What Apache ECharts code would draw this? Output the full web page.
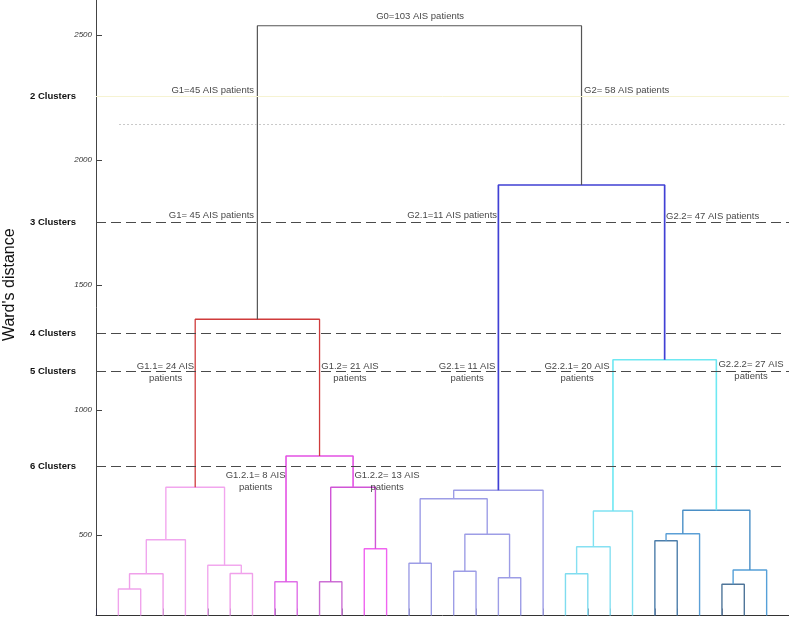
<!DOCTYPE html>
<html><head><meta charset="utf-8">
<script src="https://cdn.jsdelivr.net/npm/echarts@6/dist/echarts.min.js"></script>
<style>html,body{margin:0;padding:0;background:#fff}#c{width:789px;height:617px}</style>
</head><body><div id="c"></div>
<script>
// ---- data ----
const leafCount = 30;
const yTicks = [500, 1000, 1500, 2000, 2500];
// merge nodes N1..N29 (leaf refs L1..L30, in dendrogram order)
const mergeLeft  = ['L1','N1','N2','L6','L5','N3','L8','L10','L12','N8','N7','N6','L14','L16','L18','N14','N13','N17','L21','N19','N20','L25','N22','L28','N24','N23','N21','N18','N12'];
const mergeRight = ['L2','L3','L4','L7','N4','N5','L9','L11','L13','N9','N10','N11','L15','L17','L19','N15','N16','L20','L22','L23','L24','L26','L27','L29','L30','N25','N26','N27','N28'];
const mergeHeight = [283,344,480,345,378,690,312,312,444,690,815,1362,386,354,328,502,644,678,344,452,595,476,504,302,359,598,1200,1899,2536];
// cluster cut levels
const clusterNames = ['2 Clusters','3 Clusters','4 Clusters','5 Clusters','6 Clusters'];
const clusterCut = [2253, 1751, 1307, 1153, 775];
const extraCut = 2144;
// group annotations
const groupTexts = ['G0=103 AIS patients','G1=45 AIS patients','G2= 58 AIS patients','G1= 45 AIS patients','G2.1=11 AIS patients','G2.2= 47 AIS patients','G1.1= 24 AIS\npatients','G1.2= 21 AIS\npatients','G2.1= 11 AIS\npatients','G2.2.1= 20 AIS\npatients','G2.2.2= 27 AIS\npatients','G1.2.1= 8 AIS\npatients','G1.2.2= 13 AIS\npatients'];

// ---- layout / style ----
const yMin = 177, yMax = 2639;
const nodeColors = ['#f0a4ec','#f0a0ea','#f0a6ee','#f0a0ea','#f2a8ee','#f2a6ee',
  '#e070e8','#cc70d4','#f064f0','#d055d6','#e452e4','#cf3b3b',
  '#9d9de6','#9d9de6','#9d9de6','#9d9de6','#9d9de6','#9d9de6',
  '#7fdcef','#86e0f2','#80e2f2','#4d7eaa','#5b9fd6','#4f7599','#56a0d8','#4a8fc6',
  '#6ee8f2','#4040d4','#555555'];
const nodeWidths = [1.4,1.4,1.4,1.4,1.4,1.4,1.4,1.4,1.4,1.4,1.6,1.3,1.4,1.4,1.4,1.4,1.4,1.4,1.4,1.4,1.4,1.4,1.4,1.4,1.4,1.4,1.6,1.7,1.2];
const cutEnds = [31, 31, 30.65, 31, 30.8];
const groupAnchors = [
  [14.5,2575,'c'],[7.07,2277,'r'],[21.83,2277,'l'],[7.07,1779,'r'],[17.94,1779,'r'],[25.5,1775,'l'],
  [3.11,1151,'c'],[11.36,1151,'c'],[16.6,1151,'c'],[21.52,1151,'c'],[29.3,1157,'c'],[7.14,715,'c'],[13.02,715,'c']
];

// ---- build dendrogram geometry from linkage ----
const pos = {}, hgt = {};
for (let i = 1; i <= leafCount; i++) { pos['L'+i] = i; hgt['L'+i] = yMin; }
const linkSeries = [];
mergeHeight.forEach((h, k) => {
  const id = 'N' + (k+1), a = mergeLeft[k], b = mergeRight[k];
  pos[id] = (pos[a] + pos[b]) / 2; hgt[id] = h;
  linkSeries.push({
    type: 'line', silent: true, symbol: 'none', animation: false, z: 3,
    lineStyle: { color: nodeColors[k], width: nodeWidths[k] },
    data: [[pos[a], hgt[a]], [pos[a], h], [pos[b], h], [pos[b], hgt[b]]]
  });
});

const dash = [10, 5];
const cutStyles = [
  { color: '#f6f3d2', width: 1, type: 'solid' },
  { color: '#4a4a4a', width: 1.2, type: dash },
  { color: '#4a4a4a', width: 1.2, type: dash },
  { color: '#4a4a4a', width: 1.2, type: dash },
  { color: '#4a4a4a', width: 1.2, type: dash }
];
const markData = clusterNames.map((n, i) => [
  { coord: [0, clusterCut[i]], name: n, lineStyle: cutStyles[i] },
  { coord: [cutEnds[i], clusterCut[i]] }
]);
markData.push([
  { coord: [1.03, extraCut], name: '', lineStyle: { color: '#bbb', width: 0.8, type: [2, 2] }, label: { show: false } },
  { coord: [30.8, extraCut] }
]);

const annData = groupTexts.map((t, i) => {
  const a = groupAnchors[i];
  const lab = a[2] === 'r' ? { position: 'left', distance: 0, align: 'right' }
            : a[2] === 'l' ? { position: 'right', distance: 0, align: 'left' }
            : { position: 'inside', align: 'center' };
  return { value: [a[0], a[1]], name: t, label: lab };
});

const chart = echarts.init(document.getElementById('c'), null, { renderer: 'canvas' });
chart.setOption({
  animation: false,
  backgroundColor: '#fff',
  textStyle: { fontFamily: 'Liberation Sans, Arial, Helvetica, sans-serif' },
  grid: { left: 96, right: 0, top: 0, bottom: 1.5, containLabel: false, outerBoundsMode: 'none' },
  xAxis: {
    type: 'value', min: 0, max: leafCount + 1, interval: 1,
    axisLine: { show: true, lineStyle: { color: '#333', width: 1 } },
    axisTick: { show: true, inside: true, length: 7, lineStyle: { color: 'rgba(40,40,80,0.6)', width: 1 } },
    axisLabel: { show: false }, splitLine: { show: false }
  },
  yAxis: {
    type: 'value', min: yMin, max: yMax,
    name: "Ward's distance", nameLocation: 'middle', nameGap: 78,
    nameTextStyle: { fontSize: 16, color: '#111', padding: [0, 0, 0, 46] },
    axisLine: { show: true, lineStyle: { color: '#444', width: 1 } },
    axisTick: { show: true, inside: true, length: 6, customValues: yTicks, lineStyle: { color: '#444' } },
    axisLabel: { customValues: yTicks, formatter: v => String(v), fontSize: 8, fontStyle: 'italic', color: '#333', margin: 4 },
    splitLine: { show: false }
  },
  series: [
    ...linkSeries,
    {
      type: 'line', data: [], silent: true, symbol: 'none', z: 2,
      markLine: {
        silent: true, symbol: ['none', 'none'], animation: false,
        label: { show: true, position: 'start', distance: 20, formatter: p => p.name,
          fontSize: 9.5, fontWeight: 'bold', color: '#111' },
        data: markData
      }
    },
    {
      type: 'scatter', silent: true, symbolSize: 0, z: 5, clip: false,
      itemStyle: { color: 'transparent' },
      label: { show: true, formatter: p => p.name, fontSize: 9.5, color: '#111', lineHeight: 12 },
      data: annData
    }
  ]
});
</script></body></html>
